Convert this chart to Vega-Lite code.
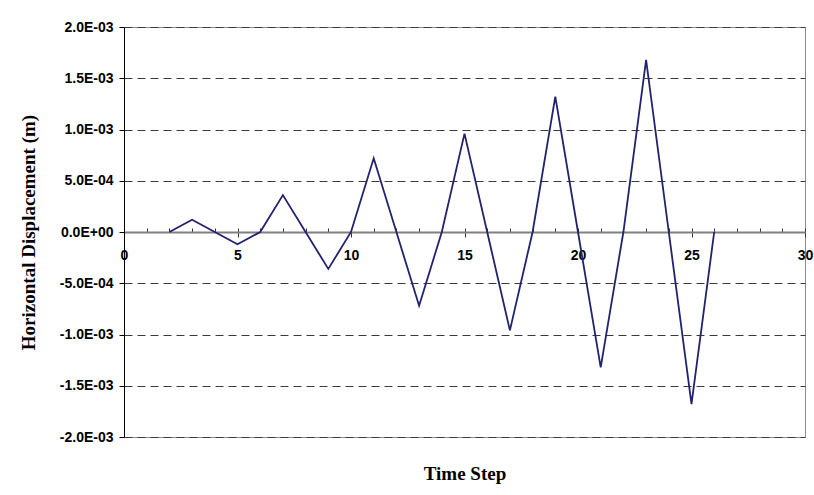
{
  "$schema": "https://vega.github.io/schema/vega-lite/v6.json",
  "width": 681,
  "height": 410,
  "autosize": {"type": "none"},
  "padding": {"left": 124, "top": 27, "right": 9, "bottom": 58},
  "background": "white",
  "config": {
    "view": {"stroke": "#8c8c8c", "strokeWidth": 1},
    "axis": {"labelFont": "Liberation Sans", "labelFontWeight": "bold", "labelFontSize": 14, "labelColor": "black", "labelFlush": false, "titleFont": "Liberation Serif", "titleFontWeight": "bold", "titleFontSize": 19, "titleColor": "black"}
  },
  "data": {
    "values": [
      {"t": 2, "d": 0},
      {"t": 3, "d": 0.00012},
      {"t": 4, "d": 0},
      {"t": 5, "d": -0.00012},
      {"t": 6, "d": 0},
      {"t": 7, "d": 0.00036},
      {"t": 8, "d": 0},
      {"t": 9, "d": -0.00036},
      {"t": 10, "d": 0},
      {"t": 11, "d": 0.00072},
      {"t": 12, "d": 0},
      {"t": 13, "d": -0.00072},
      {"t": 14, "d": 0},
      {"t": 15, "d": 0.00096},
      {"t": 16, "d": 0},
      {"t": 17, "d": -0.00096},
      {"t": 18, "d": 0},
      {"t": 19, "d": 0.00132},
      {"t": 20, "d": 0},
      {"t": 21, "d": -0.00132},
      {"t": 22, "d": 0},
      {"t": 23, "d": 0.00168},
      {"t": 24, "d": 0},
      {"t": 25, "d": -0.00168},
      {"t": 26, "d": 0}
    ]
  },
  "resolve": {"axis": {"x": "independent"}},
  "layer": [
    {
      "mark": {"type": "point", "opacity": 0},
      "encoding": {
        "x": {
          "field": "t", "type": "quantitative",
          "scale": {"domain": [0, 30], "nice": false, "zero": false},
          "axis": {"orient": "bottom", "offset": -205, "values": [0,1,2,3,4,5,6,7,8,9,10,11,12,13,14,15,16,17,18,19,20,21,22,23,24,25,26,27,28,29,30], "tickSize": -4, "tickColor": "#333333", "tickWidth": 1, "labels": false, "domain": false, "grid": false, "title": null}
        },
        "y": {
          "field": "d", "type": "quantitative",
          "scale": {"domain": [-0.002, 0.002], "nice": false, "zero": false},
          "axis": {
            "values": [-0.002, -0.0015, -0.001, -0.0005, 0, 0.0005, 0.001, 0.0015, 0.002],
            "labelExpr": "datum.value == 0 ? '0.0E+00' : ((datum.value < 0 ? '-' : '') + (abs(datum.value) >= 0.00099 ? format(abs(datum.value) * 1000, '.1f') + 'E-03' : format(abs(datum.value) * 10000, '.1f') + 'E-04'))",
            "tickSize": 5, "tickColor": "black", "domainColor": "black", "domainWidth": 1,
            "labelPadding": 6,
            "grid": true, "gridDash": [8, 5], "gridColor": "#3a3a3a", "gridWidth": 1,
            "title": "Horizontal Displacement (m)", "titleX": -96, "titleBaseline": "middle"
          }
        }
      }
    },
    {
      "mark": {"type": "line", "color": "#22226f", "strokeWidth": 1.8},
      "encoding": {
        "x": {
          "field": "t", "type": "quantitative",
          "axis": {"orient": "bottom", "offset": -205, "values": [0, 5, 10, 15, 20, 25, 30], "tickSize": 5, "tickColor": "#333333", "tickWidth": 1, "labelPadding": 11, "domain": true, "domainColor": "#808080", "domainWidth": 2, "grid": false, "title": "Time Step", "titleY": 241, "titleBaseline": "middle"}
        },
        "y": {"field": "d", "type": "quantitative"}
      }
    }
  ]
}
